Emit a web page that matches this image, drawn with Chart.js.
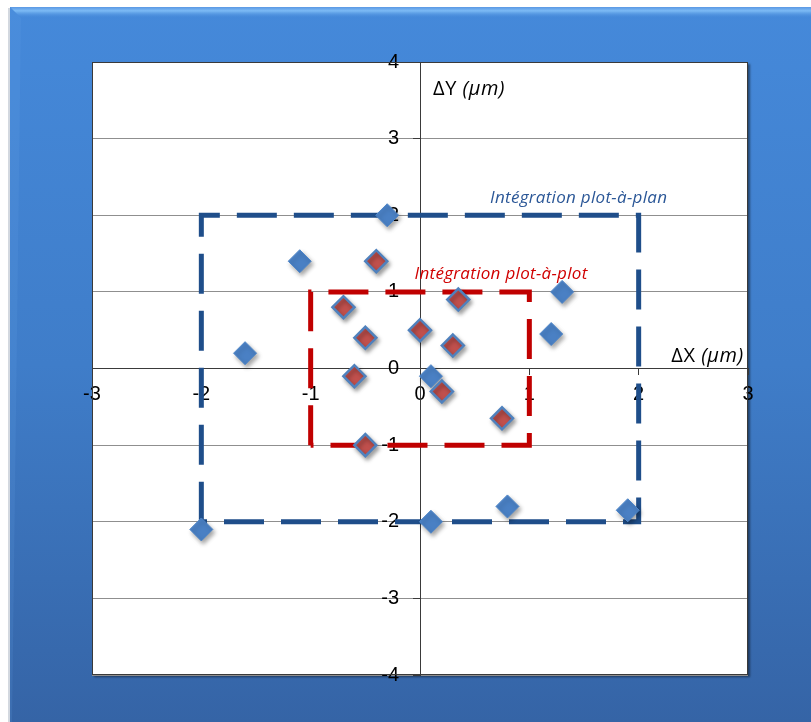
<!DOCTYPE html>
<html>
<head>
<meta charset="utf-8">
<script src="https://cdn.jsdelivr.net/npm/chart.js@4/dist/chart.umd.min.js"></script>
<style>
  html, body { margin: 0; padding: 0; background: #fff; }
  #wrap { width: 811px; height: 722px; }
</style>
</head>
<body>
<div id="wrap"><canvas id="chart"></canvas></div>
<script>
// measured deviations (µm)
const planX = [-1.6, -1.1, -0.3, 1.3, 1.2, 0.1, -2.0, 0.1, 0.8, 1.9];
const planY = [0.2, 1.4, 2.0, 1.0, 0.45, -0.1, -2.1, -2.0, -1.8, -1.85];
const plotX = [-0.4, -0.7, -0.5, -0.6, -0.5, 0, 0.35, 0.3, 0.2, 0.75];
const plotY = [1.4, 0.8, 0.4, -0.1, -1.0, 0.5, 0.9, 0.3, -0.3, -0.65];

// tolerance boxes
const planBoxX = [-2, -2, 2, 2, -2];
const planBoxY = [-2, 2, 2, -2, -2];
const plotBoxX = [-1, -1, 1, 1, -1];
const plotBoxY = [-1, 1, 1, -1, -1];

const xTicks = [-3, -2, -1, 0, 1, 2, 3];
const yTicks = [-4, -3, -2, -1, 0, 1, 2, 3, 4];

const toPoints = (xs, ys) => xs.map((x, i) => ({x: x, y: ys[i]}));

const backdrop = {
    id: 'backdrop',
    beforeDraw(chart) {
        const ctx = chart.ctx;
        const w = chart.width, h = chart.height;
        const a = chart.chartArea;
        ctx.save();
        ctx.fillStyle = '#ffffff';
        ctx.fillRect(0, 0, w, h);
        // soft shadow left of the panel
        ctx.fillStyle = '#d3d8df';
        ctx.fillRect(8, 8, 2, h);
        const g = ctx.createLinearGradient(0, 7, 0, h);
        g.addColorStop(0, '#4589da');
        g.addColorStop(0.5, '#3f7dc9');
        g.addColorStop(1, '#3564a6');
        ctx.fillStyle = g;
        ctx.fillRect(10, 7, w - 10, h - 7);
        // bevel on top edge
        const b = ctx.createLinearGradient(0, 7, 0, 18);
        b.addColorStop(0, '#5a98e4');
        b.addColorStop(0.35, '#7dbbf5');
        b.addColorStop(1, 'rgba(69,137,218,0)');
        ctx.fillStyle = b;
        ctx.beginPath();
        ctx.moveTo(10, 7);
        ctx.lineTo(w, 7);
        ctx.lineTo(w, 18);
        ctx.lineTo(21, 18);
        ctx.closePath();
        ctx.fill();
        // bevel on left edge
        ctx.fillStyle = 'rgba(110,170,235,0.15)';
        ctx.beginPath();
        ctx.moveTo(10, 7);
        ctx.lineTo(21, 18);
        ctx.lineTo(12, h);
        ctx.lineTo(10, h);
        ctx.closePath();
        ctx.fill();
        // plot area
        ctx.shadowColor = 'rgba(0,0,0,0.45)';
        ctx.shadowOffsetX = 2;
        ctx.shadowOffsetY = 2;
        ctx.shadowBlur = 2;
        ctx.fillStyle = '#ffffff';
        ctx.fillRect(a.left, a.top, a.right - a.left, a.bottom - a.top);
        ctx.restore();
    },
    afterDraw(chart) {
        const ctx = chart.ctx;
        const a = chart.chartArea;
        const xs = chart.scales.x, ys = chart.scales.y;
        ctx.save();
        ctx.strokeStyle = '#3a3a3a';
        ctx.lineWidth = 1;
        ctx.strokeRect(a.left + 0.5, a.top + 0.5, a.right - a.left - 1, a.bottom - a.top - 1);

        ctx.textBaseline = 'alphabetic';
        ctx.fillStyle = '#000000';
        ctx.letterSpacing = '0.5px';
        // axis titles
        let px = xs.getPixelForValue(0.12), py = ys.getPixelForValue(3.57);
        ctx.font = '20px "Open Sans"';
        ctx.fillText('\u0394Y ', px, py);
        let wd = ctx.measureText('\u0394Y ').width;
        ctx.font = 'italic 20px "Open Sans"';
        ctx.fillText('(\u00b5m)', px + wd, py);

        px = xs.getPixelForValue(2.96);
        py = ys.getPixelForValue(0.085);
        ctx.font = 'italic 20px "Open Sans"';
        const tail = ctx.measureText('(\u00b5m)').width;
        ctx.fillText('(\u00b5m)', px - tail, py);
        ctx.font = '20px "Open Sans"';
        wd = ctx.measureText('\u0394X ').width;
        ctx.fillText('\u0394X ', px - tail - wd, py);

        // box captions
        ctx.letterSpacing = '0.3px';
        ctx.font = 'italic 17px "Open Sans"';
        ctx.fillStyle = '#2b5797';
        ctx.fillText('Int\u00e9gration plot-\u00e0-plan', xs.getPixelForValue(0.64), ys.getPixelForValue(2.16));
        ctx.fillStyle = '#d00000';
        ctx.fillText('Int\u00e9gration plot-\u00e0-plot', xs.getPixelForValue(-0.05), ys.getPixelForValue(1.17));
        ctx.restore();
    }
};

const markerShadow = {
    id: 'markerShadow',
    beforeDatasetDraw(chart, args) {
        if (args.index > 1) return;
        const ctx = chart.ctx;
        ctx.save();
        ctx.shadowColor = 'rgba(0,0,0,0.35)';
        ctx.shadowBlur = 4;
        ctx.shadowOffsetX = 2;
        ctx.shadowOffsetY = 3;
    },
    afterDatasetDraw(chart, args) {
        if (args.index > 1) return;
        chart.ctx.restore();
    }
};

// labels of the centred y axis sit left of the tick marks
function shiftLabels(scale, dx, dy) {
    const draw = scale.drawLabels;
    scale.drawLabels = function (area) {
        const ctx = this.ctx;
        ctx.save();
        ctx.translate(dx, dy);
        draw.call(this, area);
        ctx.restore();
    };
}

const boxLine = (label, xs, ys, color) => ({
    type: 'line',
    label: label,
    data: toPoints(xs, ys),
    borderColor: color,
    borderWidth: 5,
    borderDash: [40, 17],
    borderCapStyle: 'butt',
    borderJoinStyle: 'miter',
    pointRadius: 0,
    fill: false,
    tension: 0,
    order: 5
});

const tickFont = {family: '"Liberation Sans", Arial, sans-serif', size: 20};

new Chart(document.getElementById('chart'), {
    type: 'scatter',
    data: {
        datasets: [
            {
                label: 'plot-à-plan',
                data: toPoints(planX, planY),
                pointStyle: 'rectRot',
                pointRadius: 11.5,
                backgroundColor: '#4a80c4',
                borderColor: '#4f86c8',
                borderWidth: 1,
                order: 1
            },
            {
                label: 'plot-à-plot',
                data: toPoints(plotX, plotY),
                pointStyle: 'rectRot',
                pointRadius: 11,
                backgroundColor: '#c0504d',
                borderColor: '#4f81bd',
                borderWidth: 2.5,
                order: 0
            },
            boxLine('Intégration plot-à-plan', planBoxX, planBoxY, '#1f4e8a'),
            boxLine('Intégration plot-à-plot', plotBoxX, plotBoxY, '#c00000')
        ]
    },
    options: {
        responsive: true,
        maintainAspectRatio: false,
        animation: false,
        layout: {
            padding: {left: 92, top: 62, right: 63, bottom: 47}
        },
        plugins: {
            legend: {display: false},
            tooltip: {enabled: false}
        },
        scales: {
            x: {
                type: 'linear',
                position: {y: 0},
                min: -3,
                max: 3,
                afterBuildTicks: s => { s.ticks = xTicks.map(v => ({value: v})); },
                afterFit: s => { s.height = 0; s.paddingLeft = 0; s.paddingRight = 0; },
                afterUpdate: s => { if (!s._shifted) { shiftLabels(s, 0, 2); s._shifted = true; } },
                border: {color: '#3a3a3a', width: 1},
                grid: {drawOnChartArea: false, drawTicks: true, tickLength: 6, tickColor: '#3a3a3a'},
                ticks: {color: '#000', padding: 6, maxRotation: 0, font: tickFont}
            },
            y: {
                type: 'linear',
                position: {x: 0},
                min: -4,
                max: 4,
                afterBuildTicks: s => { s.ticks = yTicks.map(v => ({value: v})); },
                afterFit: s => { s.width = 0; s.paddingTop = 0; s.paddingBottom = 0; },
                afterUpdate: s => { if (!s._shifted) { shiftLabels(s, -21, 0); s._shifted = true; } },
                border: {color: '#3a3a3a', width: 1},
                grid: {color: '#8f8f8f', lineWidth: 1, drawTicks: true, tickLength: 7, tickColor: '#3a3a3a'},
                ticks: {color: '#000', padding: 14, font: tickFont}
            }
        }
    },
    plugins: [backdrop, markerShadow]
});
</script>
</body>
</html>
